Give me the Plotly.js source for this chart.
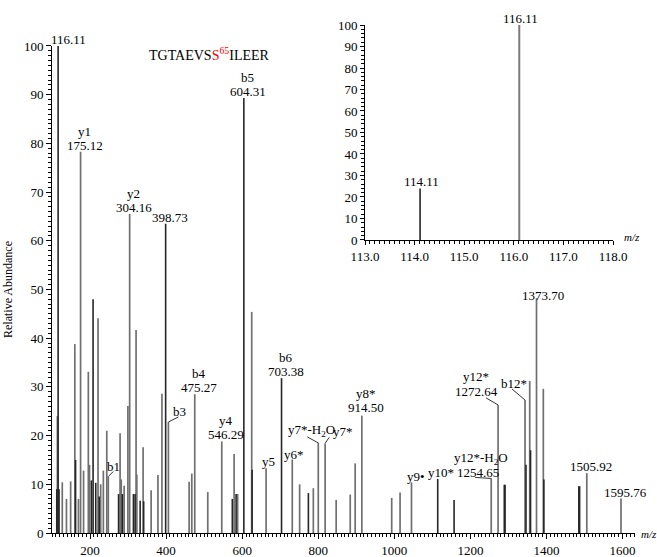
<!DOCTYPE html>
<html><head><meta charset="utf-8">
<script src="https://cdn.plot.ly/plotly-3.0.1.min.js"></script>
<style>html,body{margin:0;padding:0;background:#fff}</style>
</head><body><div id="chart" style="width:657px;height:557px"></div>
<script>
// ---------- data ----------
const grayMz  = [114.11, 127, 138, 149, 160, 169.5, 175.12, 183, 195.5, 198.5, 221, 228, 235, 244, 248, 279, 282, 289.6, 299.5, 304.16, 321, 323, 339.5, 360.6, 378.5, 389, 406, 460.5, 467.5, 475.27, 509.5, 546.29, 578.7, 588, 625, 662.8, 731.6, 751, 787, 800, 818, 847, 884, 897, 914.5, 993, 1015, 1045, 1254.65, 1272.64, 1343.5, 1355.8, 1373.7, 1391.6, 1505.92, 1595.76];
const grayInt = [24, 10.4, 7, 10.6, 38.8, 7, 78.3, 12.8, 33.1, 14, 44.1, 10, 12.8, 21, 11.6, 20.5, 11, 9.7, 26.1, 65.5, 41.7, 12, 17.6, 8.8, 11.9, 28.6, 22.8, 10.5, 12.2, 28.5, 8.4, 18.8, 16.2, 8, 45.4, 13.3, 15.1, 10, 9.2, 18.5, 18.4, 6.8, 7.9, 14.3, 24.1, 7.2, 8.3, 10.4, 11.2, 26.3, 27.3, 31.2, 48.2, 29.6, 12.3, 7.1];
const darkMz  = [112.5, 116.11, 118.5, 162, 203.5, 208, 215, 224, 275, 285, 314, 318.5, 331.7, 341, 398.73, 574, 584, 604.31, 626, 703.38, 774, 1114, 1157, 1289, 1291, 1346, 1358, 1393, 1485, 1487];
const darkInt = [9, 100, 9, 15, 10.8, 48, 10.3, 7.5, 8, 8, 8, 8, 6.6, 6.5, 63.5, 7, 8, 89.3, 13, 31.8, 8.2, 11.1, 6.8, 9.9, 9.9, 14, 17, 11, 9.6, 9.6];

const insetMz  = [114.11, 116.11];
const insetInt = [24, 100];
const insetText = ["114.11", "116.11"];

// peak annotations: m/z, ion name, mass text
const labelMz   = [116.11, 175.12, 304.16, 398.73, 604.31, 703.38, 475.27, 546.29, 662.8, 731.6, 914.5, 1373.7, 1505.92, 1595.76, 1045, 1114, 1254.65, 406, 248, 800, 818, 1272.64, 1343.5];
const labelIon  = ["", "y1", "y2", "", "b5", "b6", "b4", "y4", "y5", "y6*", "y8*", "", "", "", "y9\u2022", "y10*", "y12*-H<sub>2</sub>O", "b3", "b1", "y7*-H<sub>2</sub>O", "y7*", "y12*", "b12*"];
const labelMass = ["116.11", "175.12", "304.16", "398.73", "604.31", "703.38", "475.27", "546.29", "", "", "914.50", "1373.70", "1505.92", "1595.76", "", "", "1254.65", "", "", "", "", "1272.64", ""];

const peptideText = "TGTAEVS<span style='color:#ff0000'>S<sup>65</sup></span>ILEER";

const mainXTicks = [200, 400, 600, 800, 1000, 1200, 1400, 1600];
const mainYTicks = [0, 10, 20, 30, 40, 50, 60, 70, 80, 90, 100];
const insetXTicks = [113, 114, 115, 116, 117, 118];

// ---------- placement / style (pixels) ----------
// [xshift, massYshift, ionYshift, ionXshift]
const labelPlace = [
  [10, 6, 0], [4, 6.5, 20], [4, 7, 20.5], [4.5, 6, 0], [4, 7, 21], [4.5, 7, 20.5], [4.5, 7, 20.5], [4, 7, 20.5],
  [2, 0, 6.5], [2, 0, 4.5], [4.5, 8, 22], [6, 2.5, 0], [4, 6.3, 0], [5, 6.3, 0], [4.5, 0, 5.5], [3.5, 0, 6],
  [-13.7, 6, 20, -10], [10.7, 0, 10.3], [5, 0, 10], [-6.7, 0, 12], [18, 0, 12], [-22, 13.5, 28], [-11, 0, 17]
];
// leader lines: label index -> [dx, dy] in pixels from the peak top
const leaders = {17: [10, 5], 18: [5, 5], 19: [-11, 6], 20: [4, 6], 21: [-12, 7], 22: [-13, 11], 16: [-16, 1]};

const FONT = "'Liberation Serif', 'Times New Roman', serif";

function sticks(xs, ys) {
  const x = [], y = [];
  xs.forEach((v, i) => { x.push(v, v, null); y.push(0, ys[i], null); });
  return {x, y};
}
function intensityAt(mz) {
  let best = 0, bd = 1e9;
  grayMz.concat(darkMz).forEach((m, i) => {
    const v = i < grayMz.length ? grayInt[i] : darkInt[i - grayMz.length];
    const d = Math.abs(m - mz);
    if (d < bd || (d === bd && v > best)) { bd = d; best = v; }
  });
  return best;
}

const g = sticks(grayMz, grayInt);
const d = sticks(darkMz, darkInt);
const ins = sticks(insetMz, insetInt);

const traces = [
  {x: g.x, y: g.y, mode: 'lines', line: {color: '#707070', width: 1.7}, hoverinfo: 'skip', xaxis: 'x', yaxis: 'y'},
  {x: d.x, y: d.y, mode: 'lines', line: {color: '#262626', width: 1.6}, hoverinfo: 'skip', xaxis: 'x', yaxis: 'y'},
  {x: ins.x.slice(0, 3), y: ins.y.slice(0, 3), mode: 'lines', line: {color: '#262626', width: 1.6}, hoverinfo: 'skip', xaxis: 'x2', yaxis: 'y2'},
  {x: ins.x.slice(3), y: ins.y.slice(3), mode: 'lines', line: {color: '#7a7a7a', width: 2}, hoverinfo: 'skip', xaxis: 'x2', yaxis: 'y2'}
];

const annotations = [];
const shapes = [];
labelMz.forEach((mz, i) => {
  const top = intensityAt(mz);
  const p = labelPlace[i];
  if (labelMass[i]) {
    annotations.push({x: mz, y: top, xref: 'x', yref: 'y', text: labelMass[i], showarrow: false,
      xanchor: 'center', yanchor: 'middle', xshift: p[0], yshift: p[1], font: {family: FONT, size: 13, color: '#000'}});
  }
  if (labelIon[i]) {
    annotations.push({x: mz, y: top, xref: 'x', yref: 'y', text: labelIon[i], showarrow: false,
      xanchor: 'center', yanchor: 'middle', xshift: (p.length > 3 ? p[3] : p[0]), yshift: p[2], font: {family: FONT, size: 13, color: '#000'}});
  }
  if (leaders[i]) {
    shapes.push({type: 'line', xref: 'x', yref: 'y', xsizemode: 'pixel', ysizemode: 'pixel',
      xanchor: mz, yanchor: top, x0: 0, y0: 0, x1: leaders[i][0], y1: leaders[i][1], line: {color: '#333', width: 1}});
  }
});
insetMz.forEach((mz, i) => {
  annotations.push({x: mz, y: insetInt[i], xref: 'x2', yref: 'y2', text: insetText[i], showarrow: false,
    xanchor: 'center', yanchor: 'middle', xshift: 1.5, yshift: 7, font: {family: FONT, size: 13, color: '#000'}});
});
annotations.push({x: 0.2693, y: 0.943, xref: 'paper', yref: 'paper', text: peptideText, showarrow: false,
  xanchor: 'center', yanchor: 'middle', font: {family: FONT, size: 14, color: '#000'}});
annotations.push({x: 1.0075, y: -0.002, xref: 'paper', yref: 'paper', text: '<i>m/z</i>', showarrow: false,
  xanchor: 'left', yanchor: 'middle', font: {family: FONT, size: 11, color: '#000'}});
annotations.push({x: 0.9777, y: 0.5817, xref: 'paper', yref: 'paper', text: '<i>m/z</i>', showarrow: false,
  xanchor: 'left', yanchor: 'middle', font: {family: FONT, size: 11, color: '#000'}});

const tickFont = {family: FONT, size: 13, color: '#000'};
function linAxis(ticks) { return {tickmode: 'linear', tick0: ticks[0], dtick: ticks[1] - ticks[0]}; }
const base = {showline: true, linecolor: '#000', linewidth: 1, showgrid: false, zeroline: false, tickfont: tickFont,
  ticks: 'outside', tickcolor: '#000', tickwidth: 1};
function minor(dtick, len) { return {minor: {ticks: 'outside', ticklen: len, dtick: dtick, tickcolor: '#000', tickwidth: 1, showgrid: false}}; }
const layout = {
  width: 657, height: 557,
  margin: {l: 52, r: 22, t: 25, b: 24},
  paper_bgcolor: '#fff', plot_bgcolor: '#fff',
  showlegend: false,
  font: {family: FONT, color: '#000'},
  xaxis: Object.assign(linAxis(mainXTicks), base, minor(10, 3), {domain: [0, 1], range: [100, 1632.6], ticklen: 5, anchor: 'y'}),
  yaxis: Object.assign(linAxis(mainYTicks), base, minor(1, 3), {domain: [0, 0.9587], range: [0, 100], ticklen: 5, anchor: 'x',
    title: {text: 'Relative Abundance', font: {family: FONT, size: 12, color: '#000'}, standoff: 8}}),
  xaxis2: Object.assign(linAxis(insetXTicks), base, minor(0.1, 3), {domain: [0.5369, 0.9623], range: [113, 118], tickformat: '.1f', ticklen: 4, anchor: 'y2'}),
  yaxis2: Object.assign(linAxis(mainYTicks), base, minor(2, 3), {domain: [0.5768, 1], range: [0, 100], ticklen: 4, anchor: 'x2'}),
  annotations: annotations,
  shapes: shapes
};
Plotly.newPlot('chart', traces, layout, {displayModeBar: false, staticPlot: true});
</script>
</body></html>
